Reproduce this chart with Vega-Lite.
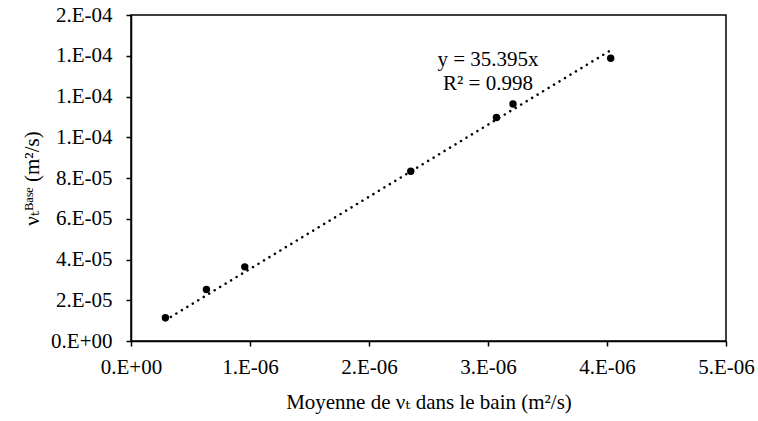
{
  "$schema": "https://vega.github.io/schema/vega-lite/v6.json",
  "width": 595,
  "height": 326,
  "autosize": {"type": "none"},
  "padding": {"left": 131, "top": 15, "right": 32, "bottom": 80},
  "background": "white",
  "config": {
    "font": "'Liberation Serif', 'Times New Roman', 'DejaVu Serif', serif",
    "view": {"stroke": "black", "strokeWidth": 1.5},
    "text": {"font": "'Liberation Serif', 'Times New Roman', 'DejaVu Serif', serif"},
    "axis": {
      "grid": false,
      "domainColor": "black",
      "domainWidth": 1.5,
      "tickColor": "black",
      "tickWidth": 1.5,
      "tickSize": 5,
      "labelFont": "'Liberation Serif', 'Times New Roman', 'DejaVu Serif', serif",
      "labelFontSize": 21,
      "labelColor": "black",
      "titleFont": "'Liberation Serif', 'Times New Roman', 'DejaVu Serif', serif",
      "titleFontSize": 21,
      "titleFontWeight": "normal",
      "titleColor": "black"
    }
  },
  "datasets": {
    "points": [
      {"x": 0.289e-6, "y": 1.14e-5},
      {"x": 0.634e-6, "y": 2.53e-5},
      {"x": 0.956e-6, "y": 3.64e-5},
      {"x": 2.351e-6, "y": 8.33e-5},
      {"x": 3.071e-6, "y": 1.097e-4},
      {"x": 3.210e-6, "y": 1.163e-4},
      {"x": 4.031e-6, "y": 1.388e-4}
    ],
    "trend": [
      {"x": 0.289e-6, "y": 1.023e-5},
      {"x": 4.031e-6, "y": 1.4268e-4}
    ],
    "annot": [
      {"label": "y = 35.395x\nR² = 0.998"}
    ]
  },
  "layer": [
    {
      "data": {"name": "trend"},
      "mark": {"type": "line", "color": "black", "strokeWidth": 2.5, "strokeDash": [0.1, 6.3], "strokeCap": "round"},
      "encoding": {
        "x": {
          "field": "x", "type": "quantitative",
          "scale": {"domain": [0, 5e-6], "nice": false, "zero": false},
          "axis": {
            "values": [0, 1e-6, 2e-6, 3e-6, 4e-6, 5e-6],
            "labelExpr": "slice(replace(format(datum.value,'.0e'),'e','.E'),0,-1) + '0' + slice(replace(format(datum.value,'.0e'),'e','.E'),-1)",
            "labelPadding": 10,
            "titlePadding": 14,
            "labelFlush": false,
            "title": "Moyenne de νₜ dans le bain (m²/s)"
          }
        },
        "y": {
          "field": "y", "type": "quantitative",
          "scale": {"domain": [0, 1.6e-4], "nice": false, "zero": false},
          "axis": {
            "values": [0, 2e-5, 4e-5, 6e-5, 8e-5, 1e-4, 1.2e-4, 1.4e-4, 1.6e-4],
            "labelExpr": "slice(replace(format(datum.value,'.0e'),'e','.E'),0,-1) + '0' + slice(replace(format(datum.value,'.0e'),'e','.E'),-1)",
            "labelPadding": 14,
            "titlePadding": 8,
            "labelFlush": false,
            "title": "νₜᴮᵃˢᵉ (m²/s)"
          }
        }
      }
    },
    {
      "data": {"name": "points"},
      "mark": {"type": "point", "filled": true, "color": "black", "size": 55, "opacity": 1},
      "encoding": {
        "x": {"field": "x", "type": "quantitative"},
        "y": {"field": "y", "type": "quantitative"}
      }
    },
    {
      "data": {"name": "annot"},
      "mark": {"type": "text", "fontSize": 21, "lineBreak": "\n", "lineHeight": 24, "align": "center", "baseline": "middle", "color": "black"},
      "encoding": {
        "x": {"datum": 3.0e-6, "type": "quantitative"},
        "y": {"datum": 1.3767e-4, "type": "quantitative"},
        "text": {"field": "label"}
      }
    }
  ]
}
